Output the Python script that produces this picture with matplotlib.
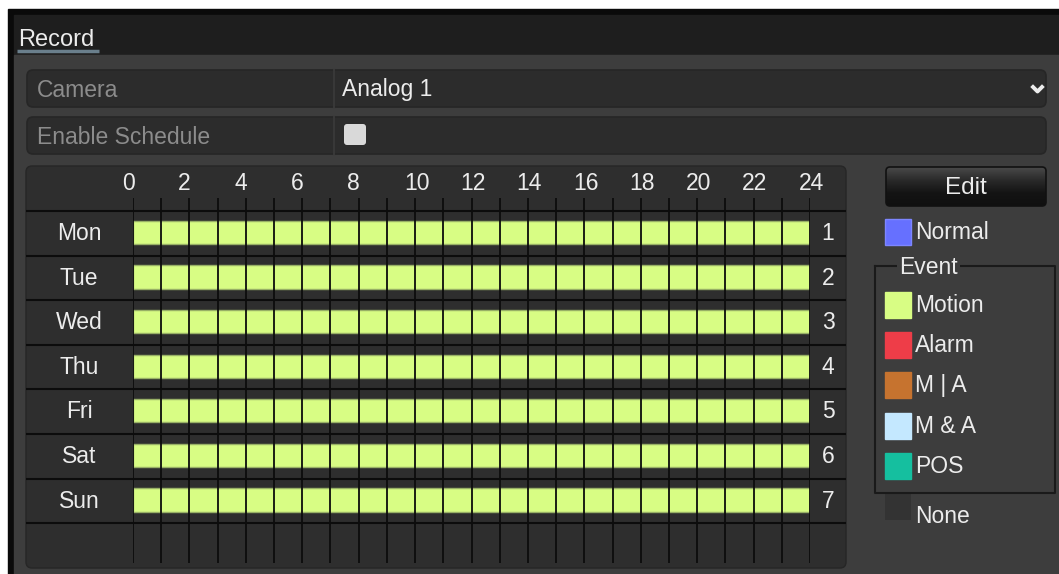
# DVR 录像计划界面 (Record schedule)
import numpy as np
from matplotlib import pyplot as plt
from matplotlib.colors import LinearSegmentedColormap
from matplotlib.patches import Rectangle, FancyBboxPatch

plt.rcParams['font.family'] = ['Liberation Sans', 'DejaVu Sans']

# -- 数据 --
days = ['Mon', 'Tue', 'Wed', 'Thu', 'Fri', 'Sat', 'Sun']
day_nums = ['1', '2', '3', '4', '5', '6', '7']
# 每天的录像时段：开始/结束小时（全部为 Motion）
sched_start = [0, 0, 0, 0, 0, 0, 0]
sched_end = [24, 24, 24, 24, 24, 24, 24]
hour_labels = list(range(0, 25, 2))
camera_name = 'Analog 1'
legend_names = ['Motion', 'Alarm', 'M | A', 'M & A', 'POS']
legend_colors = ['#d8fd84', '#ee3d48', '#c6732f', '#c4e8ff', '#15bf9f']

W, H = 1059, 574
BG = '#3d3d3d'
PANEL = '#2e2e2e'
TXT = '#ececec'
FS = 16.5

fig = plt.figure(figsize=(W / 100, H / 100), dpi=100)
fig.patch.set_facecolor('white')

# 背景（像素坐标）
bg = fig.add_axes([0, 0, 1, 1])
bg.axis('off')

bg.add_patch(Rectangle((8, 9), W, H, color='#0a0a0a'))
bg.add_patch(Rectangle((14, 15), W, 40, color='#1e1e1e'))
bg.add_patch(Rectangle((14, 55), W, H, color=BG))
bg.text(18, 46, 'Record', color=TXT, fontsize=17, va='baseline')
bg.plot([17, 99], [51, 51], color='#6a7f8c', lw=2.5, solid_capstyle='butt')

# Camera / Enable Schedule 行
for y0, label in [(69, 'Camera'), (116, 'Enable Schedule')]:
    bg.add_patch(FancyBboxPatch((27, y0 + 1), 1019, 37,
                                boxstyle='round,pad=0,rounding_size=6',
                                fc='#2c2c2c', ec='#262626', lw=1.2))
    bg.plot([334, 334], [y0 + 1, y0 + 38], color='#383838', lw=1.5)
    bg.text(37, y0 + 28, label, color='#8c8c8c', fontsize=FS, va='baseline')
bg.text(342, 96, camera_name, color=TXT, fontsize=FS, va='baseline')
bg.plot([1033, 1037.5, 1042], [87, 91.5, 87], color=TXT, lw=2.8)
bg.add_patch(FancyBboxPatch((344, 124), 22, 21,
                            boxstyle='round,pad=0,rounding_size=3',
                            fc='#d9d9d9', ec='none'))

# 计划表面板
bg.add_patch(FancyBboxPatch((26, 166), 820, 402,
                            boxstyle='round,pad=0,rounding_size=6',
                            fc=PANEL, ec='#262626', lw=1))

# Edit 按钮（渐变）
btn = FancyBboxPatch((886, 167), 160, 39,
                     boxstyle='round,pad=0,rounding_size=4',
                     fc='none', ec='#111111', lw=1.2, zorder=3)
bg.add_patch(btn)
grad = np.linspace(0, 1, 100).reshape(-1, 1)
cmap = LinearSegmentedColormap.from_list('btn', ['#4a4a4a', '#2a2a2a', '#141414', '#101010'])
img = bg.imshow(grad, extent=(886, 1046, 206, 167), cmap=cmap, aspect='auto', zorder=2)
img.set_clip_path(btn)
bg.text(966, 194, 'Edit', color=TXT, fontsize=17.5, ha='center', va='baseline', zorder=4)

# 图例
sw_x, sw_w = 885, 26
bg.add_patch(Rectangle((sw_x, 219), sw_w, 26, fc='#6670ff', ec='#7d86ff', lw=1))
bg.text(915, 239, 'Normal', color=TXT, fontsize=FS, va='baseline')

bg.plot([875, 875, 1055, 1055, 875], [266, 493, 493, 266, 266], color='#1a1a1a', lw=1.5)
bg.text(899, 274, 'Event', color=TXT, fontsize=FS, va='baseline',
        bbox=dict(fc=BG, ec='none', pad=1.5))
for i, (name, col) in enumerate(zip(legend_names, legend_colors)):
    y0 = 292 + i * 40.2
    bg.add_patch(Rectangle((sw_x, y0), sw_w, 26, fc=col, ec=col, lw=1))
    bg.text(915, y0 + 20, name, color=TXT, fontsize=FS, va='baseline')
bg.add_patch(Rectangle((sw_x, 494), sw_w, 26, fc='#333333', ec='none'))
bg.text(915, 523, 'None', color=TXT, fontsize=FS, va='baseline')

bg.set_xlim(0, W)
bg.set_ylim(H, 0)

# -- 计划网格（小时 x 天）--
px_hour = (810 - 133) / 24
row_h = 44.6
y_top = (198 - 211) / row_h
y_bot = (563 - 211) / row_h
ax = fig.add_axes([133 / W, 1 - 563 / H, 677 / W, (563 - 198) / H])
ax.set_xlim(0, 24)
ax.set_ylim(y_bot, y_top)
ax.axis('off')

ypos = np.arange(len(days))
ax.barh(ypos + 0.48, np.array(sched_end) - np.array(sched_start), left=sched_start,
        height=0.52, color='#d8fd84', edgecolor='#98b066', linewidth=1, zorder=1)
ax.vlines(range(0, 25), y_top, y_bot, color='#0c0c0c', lw=1.3, zorder=2)
ax.hlines(range(0, 8), (26 - 133) / px_hour, (846 - 133) / px_hour,
          color='#0c0c0c', lw=1.5, clip_on=False, zorder=2)
for i, d in enumerate(days):
    ax.text((79 - 133) / px_hour, i + 0.65, d, color=TXT, fontsize=FS,
            ha='center', va='baseline', clip_on=False)
    ax.text((828 - 133) / px_hour, i + 0.65, day_nums[i], color=TXT, fontsize=FS,
            ha='center', va='baseline', clip_on=False)
for h in hour_labels:
    ax.text(h - 0.4, (190 - 211) / row_h, str(h), color=TXT, fontsize=FS,
            ha='left', va='baseline', clip_on=False)

plt.savefig('out.png', dpi=100)
